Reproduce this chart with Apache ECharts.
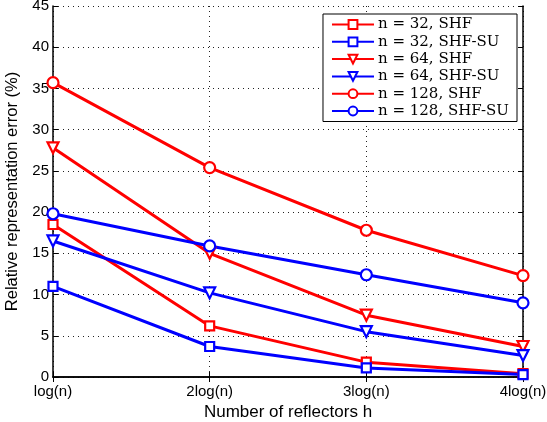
<!DOCTYPE html>
<html><head><meta charset="utf-8">
<script src="https://cdn.jsdelivr.net/npm/echarts@6/dist/echarts.min.js"></script>
<style>html,body{margin:0;padding:0;background:#fff}#c{width:547px;height:422px}</style>
</head><body><div id="c"></div>
<script>
const categories = ['log(n)', '2log(n)', '3log(n)', '4log(n)'];
const n32SHF = [18.5, 6.2, 1.8, 0.4];
const n32SHFSU = [11.0, 3.7, 1.1, 0.3];
const n64SHF = [27.8, 15.0, 7.5, 3.7];
const n64SHFSU = [16.5, 10.2, 5.5, 2.6];
const n128SHF = [35.7, 25.4, 17.8, 12.3];
const n128SHFSU = [19.8, 15.9, 12.4, 9.0];
const yTicks = [0, 5, 10, 15, 20, 25, 30, 35, 40, 45];

const RED = '#ff0000', BLUE = '#0000ff';
function s(name, data, color, symbol, size, rot) {
  return {
    name, type: 'line', data, symbol, symbolSize: size, symbolRotate: rot || 0,
    showSymbol: true,
    lineStyle: { color, width: 3 },
    itemStyle: { color: '#fff', borderColor: color, borderWidth: 2.2 },
    emphasis: { disabled: true }, animation: false
  };
}
const chart = echarts.init(document.getElementById('c'));
const axisFont = { fontFamily: 'Liberation Sans', fontSize: 15, color: '#000' };
const grid = { show: true, lineStyle: { color: '#222', type: [1, 4], width: 1 } };
chart.setOption({
  animation: false,
  grid: { left: 53, right: 24, top: 6, bottom: 45, outerBoundsMode: 'none', containLabel: false },
  legend: {
    right: 30, top: 14, orient: 'vertical',
    backgroundColor: '#fff', borderColor: '#000', borderWidth: 1,
    padding: [3, 8, 3, 8], itemGap: 2.3, itemWidth: 42, itemHeight: 11,
    textStyle: { fontFamily: 'DejaVu Serif', fontSize: 15, lineHeight: 15, color: '#000', padding: [0, 0, 0, -1] },
    data: ['n = 32, SHF', 'n = 32, SHF-SU', 'n = 64, SHF', 'n = 64, SHF-SU', 'n = 128, SHF', 'n = 128, SHF-SU']
  },
  xAxis: [{
    type: 'category', data: categories, boundaryGap: false,
    name: 'Number of reflectors h', nameLocation: 'middle', nameGap: 27,
    nameTextStyle: { fontFamily: 'Liberation Sans', fontSize: 17, color: '#000' },
    axisLine: { lineStyle: { color: '#000', width: 1.5 } },
    axisTick: { inside: true, length: 5, lineStyle: { color: '#000' } },
    axisLabel: Object.assign({ margin: 7 }, axisFont),
    splitLine: grid
  }, {
    type: 'category', data: categories, boundaryGap: false, position: 'top',
    axisLine: { lineStyle: { color: '#000', width: 1.5 } },
    axisTick: { inside: true, length: 5, lineStyle: { color: '#000' } },
    axisLabel: { show: false }, splitLine: { show: false }
  }],
  yAxis: [{
    type: 'value', min: 0, max: 45, interval: 5,
    name: 'Relative representation error (%)', nameLocation: 'middle', nameGap: 26,
    nameTextStyle: { fontFamily: 'Liberation Sans', fontSize: 16.5, color: '#000' },
    axisLine: { show: true, lineStyle: { color: '#000', width: 1.5 } },
    axisTick: { show: true, inside: true, length: 5, lineStyle: { color: '#000' } },
    axisLabel: Object.assign({ margin: 4, formatter: v => yTicks.includes(v) ? String(v) : '' }, axisFont),
    splitLine: grid
  }, {
    type: 'value', min: 0, max: 45, interval: 5, position: 'right',
    axisLine: { show: true, lineStyle: { color: '#000', width: 1.5 } },
    axisTick: { show: true, inside: true, length: 5, lineStyle: { color: '#000' } },
    axisLabel: { show: false }, splitLine: { show: false }
  }],
  series: [
    s('n = 32, SHF', n32SHF, RED, 'rect', 9),
    s('n = 32, SHF-SU', n32SHFSU, BLUE, 'rect', 9),
    s('n = 64, SHF', n64SHF, RED, 'triangle', 11, 180),
    s('n = 64, SHF-SU', n64SHFSU, BLUE, 'triangle', 11, 180),
    s('n = 128, SHF', n128SHF, RED, 'circle', 11),
    s('n = 128, SHF-SU', n128SHFSU, BLUE, 'circle', 11)
  ]
});
</script></body></html>
